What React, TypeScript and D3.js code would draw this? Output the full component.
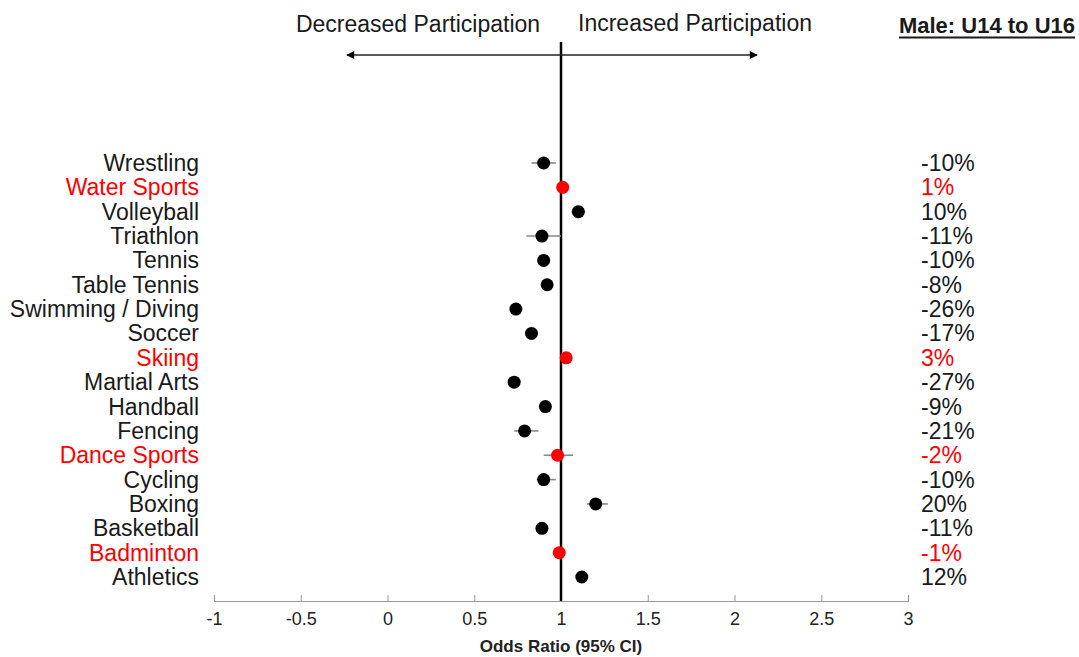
import React, { useEffect, useRef } from 'react';
import * as d3 from 'd3';

// sports listed top to bottom as in the figure
const sports = [
  'Wrestling', 'Water Sports', 'Volleyball', 'Triathlon', 'Tennis', 'Table Tennis',
  'Swimming / Diving', 'Soccer', 'Skiing', 'Martial Arts', 'Handball', 'Fencing',
  'Dance Sports', 'Cycling', 'Boxing', 'Basketball', 'Badminton', 'Athletics',
];
const oddsRatio = [0.9, 1.01, 1.1, 0.89, 0.9, 0.92, 0.74, 0.83, 1.03, 0.73, 0.91, 0.79, 0.98, 0.9, 1.2, 0.89, 0.99, 1.12];
const ciLow = [0.83, 1.0, 1.06, 0.8, 0.87, 0.9, 0.72, 0.81, 1.0, 0.71, 0.89, 0.73, 0.9, 0.86, 1.15, 0.87, 0.97, 1.09];
const ciHigh = [0.97, 1.02, 1.14, 1.0, 0.93, 0.94, 0.76, 0.85, 1.06, 0.75, 0.93, 0.87, 1.07, 0.97, 1.27, 0.91, 1.01, 1.15];
const pctChange = ['-10%', '1%', '10%', '-11%', '-10%', '-8%', '-26%', '-17%', '3%', '-27%', '-9%', '-21%', '-2%', '-10%', '20%', '-11%', '-1%', '12%'];
const notSignificant = ['Water Sports', 'Skiing', 'Dance Sports', 'Badminton'];
const xTicks = [-1, -0.5, 0, 0.5, 1, 1.5, 2, 2.5, 3];

const W = 1079;
const H = 657;
const FONT = '"Liberation Sans", Arial, sans-serif';

export default function App() {
  const ref = useRef<SVGSVGElement>(null);

  useEffect(() => {
    const svg = d3.select(ref.current);
    svg.selectAll('*').remove();

    const x = d3.scaleLinear().domain([-1, 3]).range([214, 908]);
    const y = d3.scalePoint().domain(sports).range([163, 577]);
    const axisY = 601;
    const colorOf = (s: string) => (notSignificant.includes(s) ? '#ff0000' : '#1a1a1a');

    // x axis
    const ax = svg.append('g')
      .attr('transform', `translate(0,${axisY})`)
      .call(d3.axisBottom(x).tickValues(xTicks).tickSize(-6).tickPadding(11).tickFormat(d => String(d)));
    ax.select('.domain').attr('stroke', '#999').attr('stroke-width', 1.2);
    ax.selectAll('.tick line').attr('stroke', '#999');
    ax.selectAll('.tick text')
      .attr('font-family', FONT).attr('font-size', 18).attr('fill', '#222');

    svg.append('text')
      .attr('x', x(1)).attr('y', 652)
      .attr('text-anchor', 'middle')
      .attr('font-family', FONT).attr('font-size', 17).attr('font-weight', 'bold')
      .attr('fill', '#222')
      .text('Odds Ratio (95% CI)');

    // reference line at OR = 1
    svg.append('line')
      .attr('x1', x(1)).attr('x2', x(1))
      .attr('y1', 42).attr('y2', axisY)
      .attr('stroke', '#000').attr('stroke-width', 2.5);

    // direction arrow
    const defs = svg.append('defs');
    defs.append('marker')
      .attr('id', 'arr')
      .attr('viewBox', '0 0 10 10')
      .attr('refX', 9).attr('refY', 5)
      .attr('markerWidth', 9).attr('markerHeight', 8)
      .attr('markerUnits', 'userSpaceOnUse')
      .attr('orient', 'auto-start-reverse')
      .append('path').attr('d', 'M0,0L10,5L0,10Z').attr('fill', '#000');
    svg.append('line')
      .attr('x1', 347).attr('x2', 757).attr('y1', 55).attr('y2', 55)
      .attr('stroke', '#222').attr('stroke-width', 1.3)
      .attr('marker-start', 'url(#arr)').attr('marker-end', 'url(#arr)');

    svg.append('text')
      .attr('x', 418).attr('y', 32).attr('text-anchor', 'middle')
      .attr('font-family', FONT).attr('font-size', 23).attr('fill', '#1a1a1a')
      .text('Decreased Participation');
    svg.append('text')
      .attr('x', 695).attr('y', 31).attr('text-anchor', 'middle')
      .attr('font-family', FONT).attr('font-size', 23).attr('fill', '#1a1a1a')
      .text('Increased Participation');

    const title = svg.append('text')
      .attr('x', 1075).attr('y', 33).attr('text-anchor', 'end')
      .attr('font-family', FONT).attr('font-size', 22).attr('font-weight', 'bold')
      .attr('fill', '#1a1a1a')
      .text('Male: U14 to U16');
    const tw = (title.node() as SVGTextElement).getComputedTextLength();
    svg.append('line')
      .attr('x1', 1075 - tw).attr('x2', 1075).attr('y1', 37.5).attr('y2', 37.5)
      .attr('stroke', '#1a1a1a').attr('stroke-width', 2);

    // rows
    const rows = svg.append('g');
    const row = rows.selectAll('g').data(sports).enter().append('g');

    row.append('text')
      .attr('x', 199).attr('y', d => (y(d) as number) + 8)
      .attr('text-anchor', 'end')
      .attr('font-family', FONT).attr('font-size', 23)
      .attr('fill', colorOf)
      .text(d => d);

    row.append('text')
      .attr('x', 921).attr('y', d => (y(d) as number) + 8)
      .attr('font-family', FONT).attr('font-size', 23)
      .attr('fill', colorOf)
      .text((_, i) => pctChange[i]);

    row.append('line')
      .attr('x1', (_, i) => x(ciLow[i])).attr('x2', (_, i) => x(ciHigh[i]))
      .attr('y1', d => y(d) as number).attr('y2', d => y(d) as number)
      .attr('stroke', '#888').attr('stroke-width', 1.6);

    row.append('circle')
      .attr('cx', (_, i) => x(oddsRatio[i]))
      .attr('cy', d => y(d) as number)
      .attr('r', 6.5)
      .attr('fill', d => (notSignificant.includes(d) ? '#ff0000' : '#000'));
  }, []);

  return (
    <svg
      ref={ref}
      width={W}
      height={H}
      style={{ position: 'absolute', left: 0, top: 0, background: '#fff' }}
    />
  );
}
